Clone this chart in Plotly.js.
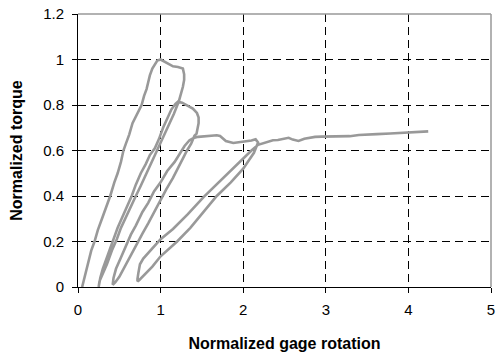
<!DOCTYPE html>
<html>
<head>
<meta charset="utf-8">
<script src="https://cdn.plot.ly/plotly-3.0.1.min.js"></script>
<style>html,body{margin:0;padding:0;background:#fff;}#chart{width:499px;height:356px;}</style>
</head>
<body>
<div id="chart"></div>
<script>
// Segment 1: initial loading to peak
var load1X = [0.05, 0.07, 0.10, 0.13, 0.16, 0.20, 0.24, 0.30, 0.34, 0.39, 0.44, 0.48, 0.52, 0.55, 0.58, 0.62, 0.66, 0.70, 0.74, 0.77, 0.80, 0.83, 0.85, 0.87, 0.90, 0.93, 0.96, 1.00];
var load1Y = [0.00, 0.03, 0.07, 0.12, 0.16, 0.20, 0.25, 0.31, 0.35, 0.40, 0.46, 0.50, 0.55, 0.60, 0.63, 0.67, 0.72, 0.75, 0.78, 0.80, 0.84, 0.87, 0.90, 0.93, 0.96, 0.98, 0.995, 1.00];
// Post-peak excursion
var peak1X = [1.05, 1.09, 1.15, 1.21, 1.27, 1.285, 1.285, 1.27, 1.25, 1.22];
var peak1Y = [0.99, 0.985, 0.97, 0.967, 0.96, 0.935, 0.91, 0.88, 0.85, 0.815];
// Unloading B
var unloadBX = [1.16, 1.11, 1.07, 1.02, 0.98, 0.93, 0.88, 0.82, 0.76, 0.70, 0.64, 0.58, 0.52, 0.47, 0.41, 0.35, 0.30, 0.26, 0.25];
var unloadBY = [0.76, 0.72, 0.69, 0.65, 0.62, 0.58, 0.54, 0.49, 0.445, 0.40, 0.355, 0.31, 0.26, 0.21, 0.16, 0.10, 0.06, 0.025, 0.00];
// Reloading B
var reloadBX = [0.27, 0.30, 0.36, 0.42, 0.48, 0.54, 0.60, 0.65, 0.70, 0.76, 0.82, 0.87, 0.93, 0.98, 1.03, 1.08, 1.13, 1.18, 1.21];
var reloadBY = [0.04, 0.08, 0.14, 0.20, 0.26, 0.31, 0.36, 0.40, 0.45, 0.50, 0.54, 0.58, 0.61, 0.65, 0.70, 0.74, 0.78, 0.805, 0.815];
// Second excursion
var peak2X = [1.26, 1.31, 1.39, 1.44, 1.46, 1.46, 1.45, 1.435];
var peak2Y = [0.81, 0.80, 0.784, 0.765, 0.745, 0.72, 0.70, 0.674];
// Unloading C
var unloadCX = [1.41, 1.37, 1.32, 1.24, 1.15, 1.07, 1.00, 0.92, 0.85, 0.78, 0.70, 0.63, 0.56, 0.50, 0.45, 0.42];
var unloadCY = [0.665, 0.63, 0.60, 0.54, 0.48, 0.43, 0.38, 0.33, 0.28, 0.235, 0.18, 0.13, 0.085, 0.045, 0.02, 0.01];
// Reloading C
var reloadCX = [0.43, 0.46, 0.52, 0.58, 0.64, 0.70, 0.78, 0.85, 0.92, 1.00, 1.08, 1.17, 1.24, 1.29, 1.35, 1.40];
var reloadCY = [0.04, 0.08, 0.13, 0.18, 0.23, 0.27, 0.33, 0.37, 0.42, 0.46, 0.51, 0.55, 0.59, 0.62, 0.645, 0.655];
// Plateau
var plateauX = [1.455, 1.52, 1.60, 1.68, 1.72, 1.76, 1.79, 1.88, 1.98, 2.04, 2.10, 2.15, 2.18];
var plateauY = [0.66, 0.662, 0.665, 0.667, 0.664, 0.65, 0.642, 0.633, 0.637, 0.64, 0.644, 0.649, 0.635];
// Unloading D
var unloadDX = [2.13, 2.00, 1.85, 1.68, 1.52, 1.36, 1.20, 1.08, 1.00, 0.90, 0.80, 0.74, 0.72];
var unloadDY = [0.59, 0.52, 0.46, 0.40, 0.33, 0.26, 0.20, 0.16, 0.135, 0.09, 0.05, 0.03, 0.025];
// Reloading D
var reloadDX = [0.72, 0.73, 0.75, 0.79, 0.85, 0.92, 1.00, 1.15, 1.33, 1.52, 1.70, 1.85, 2.00, 2.10, 2.18, 2.22];
var reloadDY = [0.035, 0.06, 0.10, 0.125, 0.15, 0.175, 0.21, 0.255, 0.32, 0.395, 0.46, 0.51, 0.565, 0.60, 0.625, 0.63];
// Final plateau
var finalX = [2.26, 2.30, 2.36, 2.42, 2.48, 2.55, 2.60, 2.67, 2.74, 2.80, 2.87, 2.95, 3.05, 3.15, 3.29, 3.40, 3.50, 3.62, 3.78, 3.90, 4.02, 4.12, 4.24];
var finalY = [0.635, 0.64, 0.645, 0.646, 0.652, 0.656, 0.648, 0.642, 0.652, 0.656, 0.66, 0.661, 0.662, 0.662, 0.663, 0.668, 0.671, 0.672, 0.675, 0.677, 0.679, 0.681, 0.684];

var xTicks = [0, 1, 2, 3, 4, 5];
var yTicks = [0, 0.2, 0.4, 0.6, 0.8, 1, 1.2];
var xTickText = ['0', '1', '2', '3', '4', '5'];
var yTickText = ['0', '0.2', '0.4', '0.6', '0.8', '1', '1.2'];

var xs = [].concat(load1X, peak1X, unloadBX, reloadBX, peak2X, unloadCX, reloadCX, plateauX, unloadDX, reloadDX, finalX);
var ys = [].concat(load1Y, peak1Y, unloadBY, reloadBY, peak2Y, unloadCY, reloadCY, plateauY, unloadDY, reloadDY, finalY);

var font = 'Liberation Sans, Arial, sans-serif';
var trace = {x: xs, y: ys, type: 'scatter', mode: 'lines',
  line: {color: '#999999', width: 2.6}, hoverinfo: 'skip', showlegend: false};

var layout = {
  width: 499, height: 356,
  margin: {l: 78, r: 8, t: 14, b: 69},
  paper_bgcolor: '#ffffff', plot_bgcolor: '#ffffff',
  font: {family: font, color: '#000', size: 15},
  showlegend: false,
  xaxis: {
    range: [0, 5], tickvals: xTicks, ticktext: xTickText,
    showline: true, linecolor: '#000', linewidth: 1,
    ticks: 'outside', ticklen: 5, tickcolor: '#000', ticklabelstandoff: 4,
    showgrid: true, gridcolor: '#000', gridwidth: 1, griddash: '8px,5px',
    zeroline: false, tickfont: {size: 15, family: font},
    title: {text: '<b>Normalized gage rotation</b>', font: {size: 16, family: font}, standoff: 20}
  },
  yaxis: {
    range: [0, 1.2], tickvals: yTicks, ticktext: yTickText,
    showline: true, linecolor: '#000', linewidth: 1,
    ticks: 'outside', ticklen: 5, tickcolor: '#000', ticklabelstandoff: 5,
    showgrid: true, gridcolor: '#000', gridwidth: 1, griddash: '8px,5px',
    zeroline: false, tickfont: {size: 15, family: font},
    title: {text: '<b>Normalized torque</b>', font: {size: 16, family: font}, standoff: 16}
  },
  shapes: [
    {type: 'line', xref: 'paper', yref: 'paper', x0: 0, x1: 1, y0: 1, y1: 1, line: {color: '#999999', width: 1.5}},
    {type: 'line', xref: 'paper', yref: 'paper', x0: 1, x1: 1, y0: 0, y1: 1, line: {color: '#999999', width: 1.5}}
  ]
};

Plotly.newPlot('chart', [trace], layout, {displayModeBar: false, staticPlot: true});
</script>
</body>
</html>
